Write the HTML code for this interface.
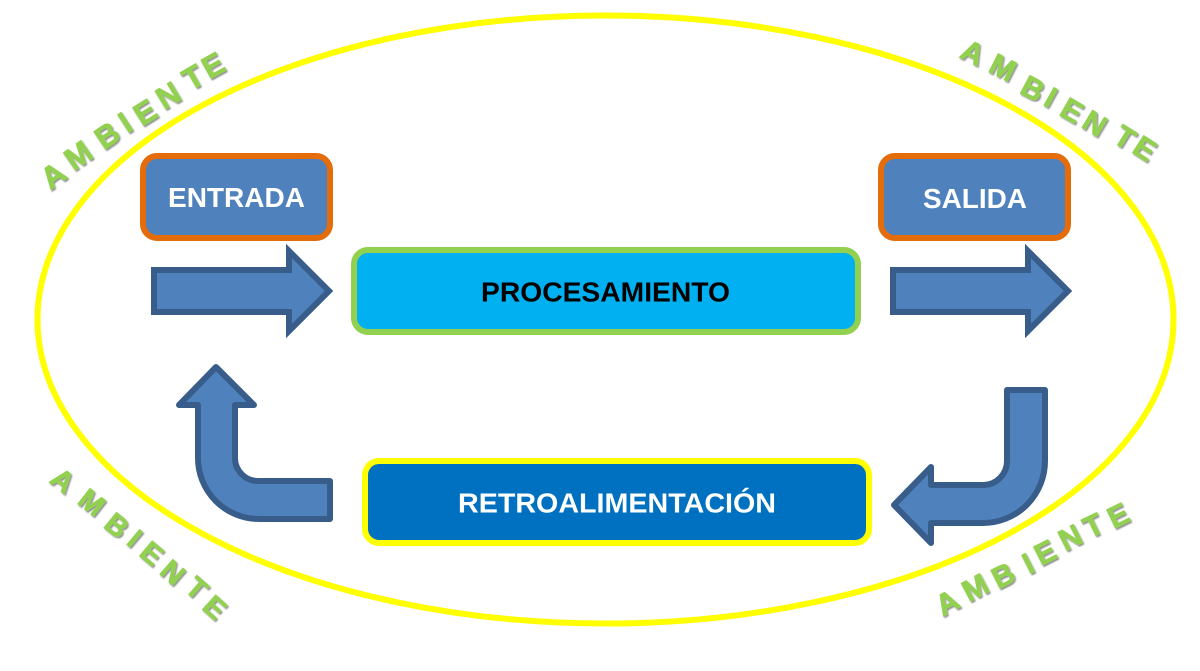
<!DOCTYPE html>
<html>
<head>
<meta charset="utf-8">
<style>
html,body{margin:0;padding:0;background:#fff;width:1200px;height:671px;overflow:hidden}
svg{display:block}
text{font-family:"Liberation Sans",sans-serif;font-weight:bold}
.a text{fill:#92D050;stroke:#92D050;stroke-width:0.7;text-anchor:middle}
</style>
</head>
<body>
<svg width="1200" height="671" viewBox="0 0 1200 671" xmlns="http://www.w3.org/2000/svg">
<defs>
<filter id="s" x="-5%" y="-5%" width="110%" height="110%">
<feDropShadow dx="1.2" dy="1.5" stdDeviation="0.9" flood-color="#000" flood-opacity="0.45"/>
</filter>
</defs>
<rect width="1200" height="671" fill="#fff"/>
<ellipse cx="605.5" cy="319.5" rx="568" ry="304" fill="none" stroke="#FFFF00" stroke-width="6"/>

<rect x="143" y="156" width="187" height="82" rx="14" fill="#4F81BD" stroke="#E46C0A" stroke-width="6"/>
<rect x="881" y="156" width="187" height="82" rx="14" fill="#4F81BD" stroke="#E46C0A" stroke-width="6"/>
<rect x="354" y="250" width="504" height="82" rx="14" fill="#00B0F0" stroke="#92D050" stroke-width="6"/>
<rect x="365" y="461" width="504" height="82" rx="14" fill="#0070C0" stroke="#FFFF00" stroke-width="6"/>

<g fill="#4F81BD" stroke="#385D8A" stroke-width="6">
<path d="M154,270H289V251L329,291L289,331V312H154Z"/>
<path d="M893,270H1028V251L1068,291L1028,331V312H893Z"/>
<path stroke-linejoin="round" d="M1007,390H1045V461A62,62 0 0 1 983,523H931V543L894,505L931,467V485H983A24,24 0 0 0 1007,461Z"/>
<path stroke-linejoin="round" d="M330,481V519H259A61,61 0 0 1 198,458V405H179L216,367L254,405H235V458A23,23 0 0 0 258,481Z"/>
</g>

<text x="168" y="207" font-size="28" fill="#fff" textLength="137" lengthAdjust="spacingAndGlyphs">ENTRADA</text>
<text x="923" y="208" font-size="28" fill="#fff" textLength="104" lengthAdjust="spacingAndGlyphs">SALIDA</text>
<text x="481" y="301.5" font-size="28" fill="#000" textLength="249" lengthAdjust="spacingAndGlyphs">PROCESAMIENTO</text>
<text x="458" y="512.5" font-size="28" fill="#fff" textLength="318" lengthAdjust="spacingAndGlyphs">RETROALIMENTACIÓN</text>

<g class="a" filter="url(#s)">
<g font-size="31">
<text transform="translate(53,175) rotate(-36) translate(0,11)">A</text>
<text transform="translate(78,155) rotate(-35) translate(0,11)">M</text>
<text transform="translate(107,135) rotate(-34) translate(0,11)">B</text>
<text transform="translate(125,122) rotate(-33) translate(0,11)">I</text>
<text transform="translate(145,112) rotate(-32) translate(0,11)">E</text>
<text transform="translate(168,95) rotate(-31) translate(0,11)">N</text>
<text transform="translate(193,77) rotate(-30) translate(0,11)">T</text>
<text transform="translate(213,65) rotate(-29) translate(0,11)">E</text>
</g>
<g font-size="30">
<text transform="translate(973,52) rotate(26) translate(0,10.8)">A</text>
<text transform="translate(1003,67) rotate(27) translate(0,10.8)">M</text>
<text transform="translate(1033,88) rotate(28) translate(0,10.8)">B</text>
<text transform="translate(1051,97) rotate(29) translate(0,10.8)">I</text>
<text transform="translate(1072,110) rotate(30) translate(0,10.8)">E</text>
<text transform="translate(1095,123) rotate(31) translate(0,10.8)">N</text>
<text transform="translate(1125,137) rotate(32) translate(0,10.8)">T</text>
<text transform="translate(1145,148) rotate(33) translate(0,10.8)">E</text>
</g>
<g font-size="29">
<text transform="translate(63,480) rotate(38) translate(0,10.4)">A</text>
<text transform="translate(92,502) rotate(38) translate(0,10.4)">M</text>
<text transform="translate(117,525) rotate(39) translate(0,10.4)">B</text>
<text transform="translate(135,538) rotate(40) translate(0,10.4)">I</text>
<text transform="translate(152,553) rotate(40) translate(0,10.4)">E</text>
<text transform="translate(173,572) rotate(41) translate(0,10.4)">N</text>
<text transform="translate(197,588) rotate(41) translate(0,10.4)">T</text>
<text transform="translate(215,607) rotate(42) translate(0,10.4)">E</text>
</g>
<g font-size="30">
<text transform="translate(947,602) rotate(-29) translate(0,10.8)">A</text>
<text transform="translate(975,587) rotate(-28) translate(0,10.8)">M</text>
<text transform="translate(1003,575) rotate(-27) translate(0,10.8)">B</text>
<text transform="translate(1028,563) rotate(-27) translate(0,10.8)">I</text>
<text transform="translate(1045,552) rotate(-27) translate(0,10.8)">E</text>
<text transform="translate(1070,537) rotate(-27) translate(0,10.8)">N</text>
<text transform="translate(1093,525) rotate(-26) translate(0,10.8)">T</text>
<text transform="translate(1118,515) rotate(-26) translate(0,10.8)">E</text>
</g>
</g>
</svg>
</body>
</html>
